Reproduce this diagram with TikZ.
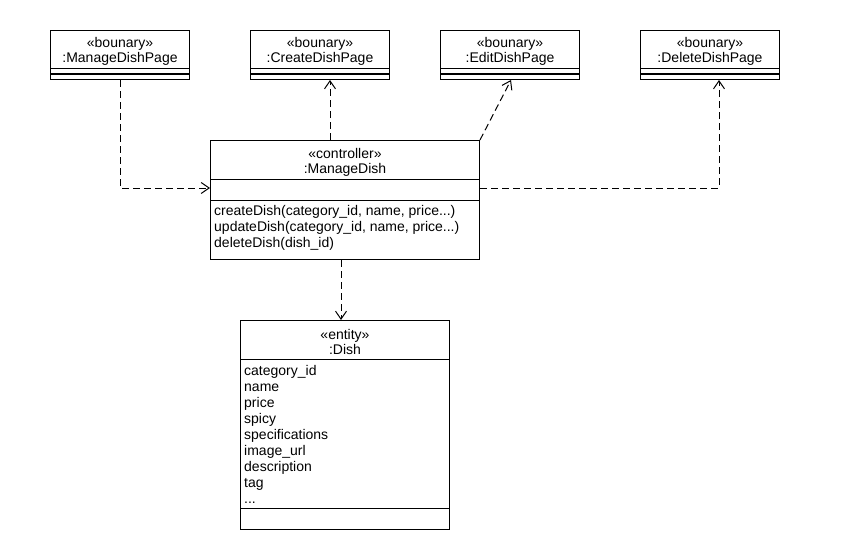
\documentclass[tikz,border=0pt]{standalone}
\usepackage{fontspec}
\setmainfont{Liberation Sans}
\usetikzlibrary{arrows.meta}
\begin{document}
\begin{tikzpicture}[x=1pt,y=-1pt,
  font=\fontsize{14}{16}\selectfont,
  box/.style={draw, line width=1pt, inner sep=0pt, anchor=north west},
  dep/.style={line width=1pt, dash pattern=on 7pt off 4pt, -{Straight Barb[length=8pt,width=11pt,line width=1pt]}},
  ctxt/.style={inner sep=0pt, anchor=base},
  ltxt/.style={inner sep=0pt, anchor=base west}]
\useasboundingbox[fill=white] (0,0) rectangle (843,551);

% boundary boxes
\node[box, minimum width=139pt, minimum height=49pt] (mdp) at (50,30) {};
\node[box, minimum width=139pt, minimum height=49pt] (cdp) at (250,30) {};
\node[box, minimum width=139pt, minimum height=49pt] (edp) at (440,30) {};
\node[box, minimum width=139pt, minimum height=49pt] (ddp) at (640,30) {};
\foreach \b in {mdp,cdp,edp,ddp}{
  \draw[line width=1pt] (\b.west |- 0,69) -- (\b.east |- 0,69);
  \draw[line width=1pt] (\b.west |- 0,74) -- (\b.east |- 0,74);
}
\node[ctxt] (mdpa) at (mdp.center |- 0,48) {«bounary»};
\node[ctxt] (mdpb) at (mdp.center |- 0,63) {:ManageDishPage};
\node[ctxt] (cdpa) at (cdp.center |- 0,48) {«bounary»};
\node[ctxt] (cdpb) at (cdp.center |- 0,63) {:CreateDishPage};
\node[ctxt] (edpa) at (edp.center |- 0,48) {«bounary»};
\node[ctxt] (edpb) at (edp.center |- 0,63) {:EditDishPage};
\node[ctxt] (ddpa) at (ddp.center |- 0,48) {«bounary»};
\node[ctxt] (ddpb) at (ddp.center |- 0,63) {:DeleteDishPage};

% controller
\node[box, minimum width=269pt, minimum height=119pt] (md) at (210,140) {};
\draw[line width=1pt] (md.west |- 0,179) -- (md.east |- 0,179);
\draw[line width=1pt] (md.west |- 0,200) -- (md.east |- 0,200);
\node[ctxt] (mda) at (md.center |- 0,158) {«controller»};
\node[ctxt] (mdb) at (md.center |- 0,173) {:ManageDish};
\node[ltxt] (op1) at (214,215) {createDish(category\_id, name, price...)};
\node[ltxt] (op2) at (214,231) {updateDish(category\_id, name, price...)};
\node[ltxt] (op3) at (214,247) {deleteDish(dish\_id)};

% entity
\node[box, minimum width=209pt, minimum height=209pt] (dish) at (240,320) {};
\draw[line width=1pt] (dish.west |- 0,359) -- (dish.east |- 0,359);
\draw[line width=1pt] (dish.west |- 0,508) -- (dish.east |- 0,508);
\node[ctxt] (disha) at (dish.center |- 0,339) {«entity»};
\node[ctxt] (dishb) at (dish.center |- 0,354) {:Dish};
\node[ltxt] (at0) at (244,375) {category\_id};
\node[ltxt] (at1) at (244,391) {name};
\node[ltxt] (at2) at (244,407) {price};
\node[ltxt] (at3) at (244,423) {spicy};
\node[ltxt] (at4) at (244,439) {specifications};
\node[ltxt] (at5) at (244,455) {image\_url};
\node[ltxt] (at6) at (244,471) {description};
\node[ltxt] (at7) at (244,487) {tag};
\node[ltxt] (at8) at (244,503) {...};

% dependencies
\draw[dep] (mdp.south) |- (md.west |- 0,188);
\draw[dep] (md.north -| 330,0) -- (cdp.south -| 330,0);
\draw[dep] (md.north east) -- (edp.south -| 511,0);
\draw[dep] (md.east |- 0,188) -| (ddp.south -| 719,0);
\draw[dep] (md.south -| 341,0) -- (dish.north -| 341,0);
\end{tikzpicture}
\end{document}
